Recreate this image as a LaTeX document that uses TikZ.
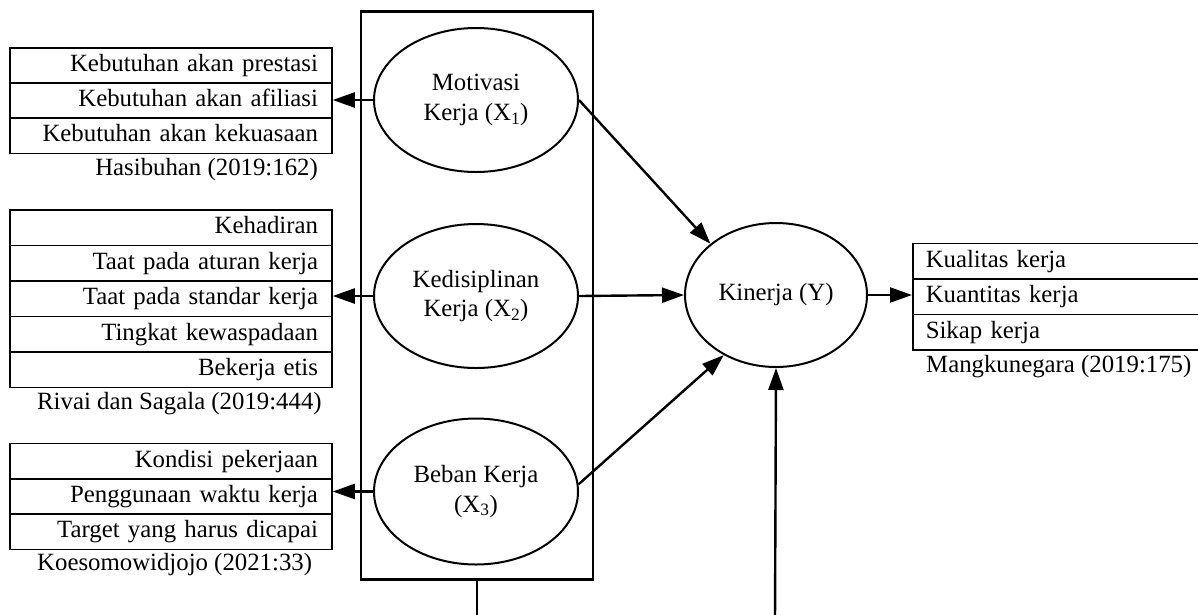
\documentclass[tikz,border=0pt]{standalone}
\usepackage{fontspec}
\setmainfont{Liberation Serif}
\usetikzlibrary{arrows.meta,shapes.geometric}
\begin{document}
\begin{tikzpicture}[x=1pt,y=-1pt,
  every node/.style={font=\fontsize{24.8}{29.5}\selectfont},
  row/.style={draw, line width=1.5pt, minimum height=35.5pt, inner ysep=0pt, inner xsep=14pt, text width=294pt, align=right, text height=17pt, text depth=5pt},
  rrow/.style={draw, line width=1.5pt, minimum height=35.5pt, inner ysep=0pt, inner xsep=13pt, text width=270pt, align=left, text height=17pt, text depth=5pt, anchor=west},
  lat/.style={draw, ellipse, line width=2pt, inner sep=0pt, align=center},
  arr/.style={line width=2.4pt, -{Triangle[length=22pt,width=15pt]}},
  ln/.style={line width=2.4pt},
  src/.style={inner sep=0pt}
]
\useasboundingbox (0,0) rectangle (1198,614);
\clip (0,0) rectangle (1198,614);

% frame
\node[draw, line width=2.5pt, minimum width=232pt, minimum height=568pt, inner sep=0pt] (frame) at (477,295.5) {};

% left indicator boxes
\node[row] (a1) at (171,65.5) {Kebutuhan akan prestasi};
\node[row] (a2) at (171,100.5) {Kebutuhan akan afiliasi};
\node[row] (a3) at (171,135.5) {Kebutuhan akan kekuasaan};
\node[src, anchor=base east] (sa) at (318,175) {Hasibuhan (2019:162)};

\node[row] (b1) at (171,227.75) {Kehadiran};
\node[row] (b2) at (171,263.25) {Taat pada aturan kerja};
\node[row] (b3) at (171,298.75) {Taat pada standar kerja};
\node[row] (b4) at (171,334.25) {Tingkat kewaspadaan};
\node[row] (b5) at (171,369.75) {Bekerja etis};
\node[src, anchor=base west] (sb) at (37,409) {Rivai dan Sagala (2019:444)};

\node[row] (c1) at (171,461.25) {Kondisi pekerjaan};
\node[row] (c2) at (171,496.5) {Penggunaan waktu kerja};
\node[row] (c3) at (171,531.75) {Target yang harus dicapai};
\node[src, anchor=base west] (sc) at (37,570) {Koesomowidjojo (2021:33)};

% right indicator box
\node[rrow] (r1) at (912,261.25) {Kualitas kerja};
\node[rrow] (r2) at (912,296.75) {Kuantitas kerja};
\node[rrow] (r3) at (912,332) {Sikap kerja};
\node[src, anchor=base west] (sr) at (926,372) {Mangkunegara (2019:175)};

% latent variables
\node[lat, minimum width=204pt, minimum height=144pt] (m) at (476,100) {Motivasi\\Kerja (X\textsubscript{1})};
\node[lat, minimum width=204pt, minimum height=144pt] (k) at (476,296) {Kedisiplinan\\Kerja (X\textsubscript{2})};
\node[lat, minimum width=204pt, minimum height=146pt] (b) at (476,491.5) {Beban Kerja\\(X\textsubscript{3})};
\node[lat, minimum width=182pt, minimum height=144pt] (kin) at (776,295) {Kinerja (Y)};

% connectors
\draw[arr] (m.west) -- (m.west -| a2.east);
\draw[arr] (k.west) -- (k.west -| b3.east);
\draw[arr] (b.west) -- (b.west -| c2.east);
\draw[arr] (m.east) -- (kin.142);
\draw[arr] (k.east) -- (kin.west);
\draw[arr] (b.4) -- (kin.229);
\draw[arr] (kin.east) -- (kin.east -| r2.west);

\coordinate (fb) at (477,620);
\coordinate (kb) at (775,620);
\draw[ln] (frame.south) -- (fb);
\draw[arr] (kb) -- (kin.south);
\end{tikzpicture}
\end{document}
